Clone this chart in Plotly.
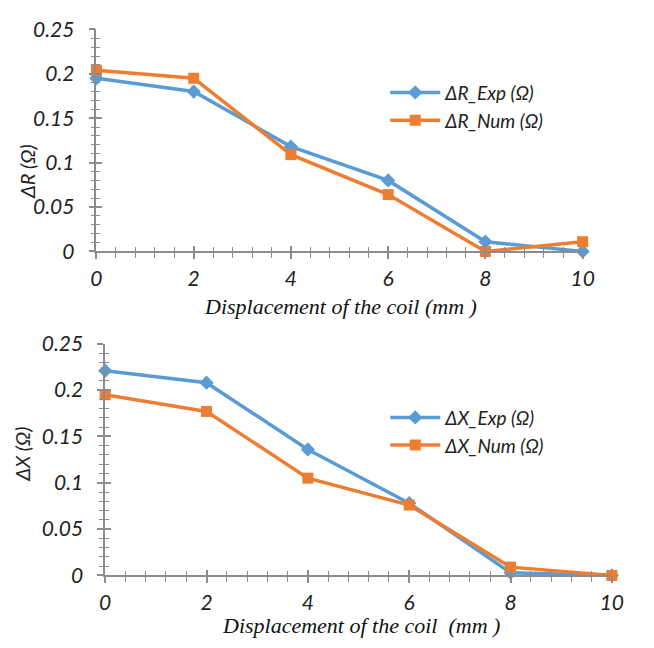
import plotly.graph_objects as go

x_mm = [0, 2, 4, 6, 8, 10]
dR_exp = [0.195, 0.180, 0.118, 0.080, 0.011, 0.0]
dR_num = [0.204, 0.195, 0.109, 0.064, 0.0, 0.011]
dX_exp = [0.221, 0.208, 0.136, 0.078, 0.003, 0.0]
dX_num = [0.195, 0.177, 0.105, 0.076, 0.009, 0.0]

y_tickvals = [0, 0.05, 0.1, 0.15, 0.2, 0.25]
y_ticktext = ["0", "0.05", "0.1", "0.15", "0.2", "0.25"]
x_tickvals = [0, 2, 4, 6, 8, 10]

BLUE = "#5B9BD5"
ORANGE = "#ED7D31"
AXC = "#8C8C8C"
TICKFONT = dict(family="Lato", size=21, color="#222", style="italic")
SERIF = dict(family="Liberation Serif", size=22, color="#111", style="italic")
LEGFONT = dict(family="Lato", size=19, color="#222", style="italic")
YTFONT = dict(family="Lato", size=20, color="#222", style="italic")

fig = go.Figure()

def add(xs, ys, name, color, symbol, size, xa, ya, legend):
    fig.add_trace(go.Scatter(
        x=xs, y=ys, name=name, mode="lines+markers",
        line=dict(color=color, width=3.5),
        marker=dict(symbol=symbol, size=size, color=color),
        xaxis=xa, yaxis=ya, legend=legend, cliponaxis=False))

add(x_mm, dR_exp, "ΔR_Exp (Ω)", BLUE, "diamond", 11, "x", "y", "legend")
add(x_mm, dR_num, "ΔR_Num (Ω)", ORANGE, "square", 11, "x", "y", "legend")
add(x_mm, dX_exp, "ΔX_Exp (Ω)", BLUE, "diamond", 11, "x2", "y2", "legend2")
add(x_mm, dX_num, "ΔX_Num (Ω)", ORANGE, "square", 11, "x2", "y2", "legend2")

# empty helper traces so the overlay axes (inward tick halves) get drawn
for xa, ya in [("x3", "y"), ("x", "y3"), ("x4", "y2"), ("x2", "y4")]:
    fig.add_trace(go.Scatter(x=[], y=[], xaxis=xa, yaxis=ya, showlegend=False,
                             hoverinfo="skip"))

top_x = [93/654, 593/654]
top_y = [1-247/648, 1-16/648]
bot_x = [102/654, 623/654]
bot_y = [1-584/648, 1-343/648]

def xax(domain, anchor, inside=False, overlay=None):
    d = dict(domain=domain, anchor=anchor, range=[0, 10], tickvals=x_tickvals,
             showgrid=False, zeroline=False, showline=True, linecolor=AXC, linewidth=1.5,
             ticks="inside" if inside else "outside", ticklen=6, tickcolor=AXC, tickwidth=1.5,
             minor=dict(dtick=0.4, tick0=0, ticks="inside" if inside else "outside",
                        ticklen=5, tickcolor=AXC, tickwidth=1.2, showgrid=False))
    if inside:
        d.update(showticklabels=False, overlaying=overlay)
    else:
        d.update(tickfont=TICKFONT, ticklabelstandoff=2)
    return d

def yax(domain, anchor, inside=False, overlay=None):
    d = dict(domain=domain, anchor=anchor, range=[0, 0.25], tickvals=y_tickvals,
             ticktext=y_ticktext,
             showgrid=False, zeroline=False, showline=True, linecolor=AXC, linewidth=1.5,
             ticks="inside" if inside else "outside", ticklen=6, tickcolor=AXC, tickwidth=1.5,
             minor=dict(dtick=0.01, tick0=0, ticks="inside" if inside else "outside",
                        ticklen=4, tickcolor=AXC, tickwidth=1.2, showgrid=False))
    if inside:
        d.update(showticklabels=False, overlaying=overlay, side="left")
    else:
        d.update(tickfont=TICKFONT, ticklabelstandoff=10)
    return d

annots = [
    dict(text="Displacement of the coil (mm )", x=344/654, y=1-304/648, font=SERIF),
    dict(text="Displacement of the coil  (mm )", x=365/654, y=1-636/648, font=SERIF),
    dict(text="ΔR (Ω)", x=21/654, y=1-164/648, textangle=-90, font=YTFONT),
    dict(text="ΔX (Ω)", x=17/654, y=1-458/648, textangle=-90, font=YTFONT),
]
for a in annots:
    a.update(xref="paper", yref="paper", showarrow=False, xanchor="center", yanchor="middle")

fig.update_layout(
    width=654, height=648,
    margin=dict(l=0, r=0, t=0, b=0),
    paper_bgcolor="white", plot_bgcolor="white",
    showlegend=True,
    xaxis=xax(top_x, "y"),
    yaxis=yax(top_y, "x"),
    xaxis2=xax(bot_x, "y2"),
    yaxis2=yax(bot_y, "x2"),
    xaxis3=xax(top_x, "y", inside=True, overlay="x"),
    yaxis3=yax(top_y, "x", inside=True, overlay="y"),
    xaxis4=xax(bot_x, "y2", inside=True, overlay="x2"),
    yaxis4=yax(bot_y, "x2", inside=True, overlay="y2"),
    annotations=annots,
    legend=dict(x=390/654, y=1-62/648, xanchor="left", yanchor="top",
                bgcolor="rgba(0,0,0,0)", itemwidth=50, font=LEGFONT),
    legend2=dict(x=390/654, y=1-400/648, xanchor="left", yanchor="top",
                 bgcolor="rgba(0,0,0,0)", itemwidth=50, font=LEGFONT),
)

fig.write_html("out.html")
